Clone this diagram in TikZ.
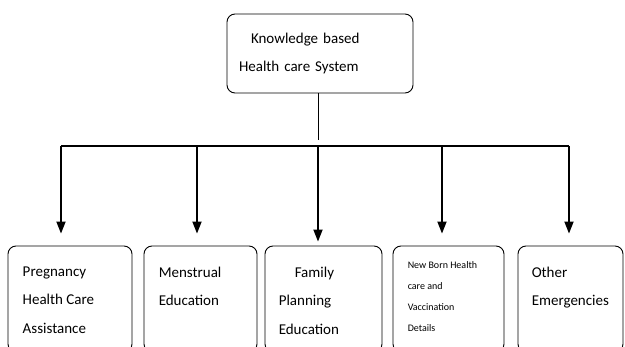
\documentclass[tikz,border=0pt]{standalone}
\usepackage{fontspec}
\setmainfont{Carlito}
\usetikzlibrary{arrows.meta,positioning}

\begin{document}
\begin{tikzpicture}[x=1pt,y=-1pt,
    every node/.style = {inner sep=0pt, font=\fontsize{15}{28.5}\selectfont},
    box/.style = {shape=rectangle, rounded corners=8pt, draw, line width=0.9pt},
    txt/.style = {align=left},
    small/.style = {txt, font=\fontsize{10}{21}\selectfont},
    arr/.style = {line width=1.8pt, -{Triangle[width=9pt,length=12pt]}}]
  \useasboundingbox (0,0) rectangle (625,347);
  \node[box, text width=162pt, inner xsep=12pt, minimum height=79pt, align=left] (kb) at (320,53.5)
    {\hspace{12pt}Knowledge based\\Health care System};
  \node[box, minimum width=124pt, minimum height=106pt] (b1) at (70,299) {};
  \node[box, minimum width=113pt, minimum height=106pt] (b2) at (200.5,299) {};
  \node[box, minimum width=117pt, minimum height=106pt] (b3) at (323.5,299) {};
  \node[box, minimum width=111pt, minimum height=106pt] (b4) at (448.5,299) {};
  \node[box, minimum width=105pt, minimum height=106pt] (b5) at (570.5,299) {};
  \node[txt, below right=21pt and 15pt of b1.north west] (t1) {Pregnancy\\Health Care\\Assistance};
  \node[txt, below right=21pt and 15pt of b2.north west] (t2) {Menstrual\\Education};
  \node[txt, below right=21pt and 14pt of b3.north west] (t3) {\hspace{16pt}Family\\Planning\\Education};
  \node[small, below right=16pt and 15pt of b4.north west] (t4) {New Born Health\\care and\\Vaccination\\Details};
  \node[txt, below right=21pt and 14pt of b5.north west] (t5) {Other\\Emergencies};
  \coordinate (stem) at (318,140);
  \coordinate (j1) at (61,146);
  \coordinate (j2) at (197,146);
  \coordinate (j3) at (318,146);
  \coordinate (j4) at (442,146);
  \coordinate (j5) at (569,146);
  \draw[line width=0.8pt] (kb.south -| stem) -- (stem);
  \draw[line width=1.8pt] (j1) -- (j5);
  \foreach \i in {1,2,4,5}
    \draw[arr, shorten >=12pt] (j\i) -- (j\i |- b\i.north);
  \draw[arr, shorten >=4pt] (j3) -- (j3 |- b3.north);
\end{tikzpicture}
\end{document}
